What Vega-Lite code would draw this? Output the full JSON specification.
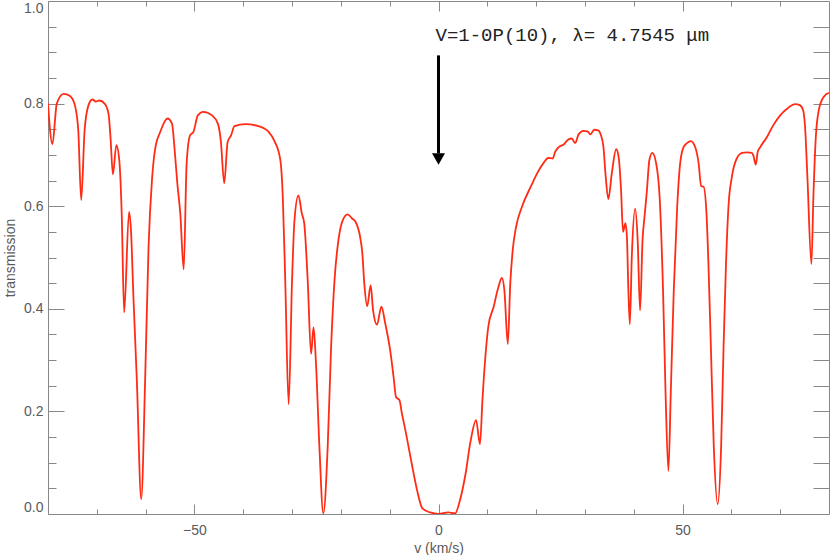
{
  "$schema": "https://vega.github.io/schema/vega-lite/v6.json",
  "width": 781,
  "height": 513,
  "autosize": {"type": "none"},
  "padding": {"left": 48, "top": 1, "right": 1, "bottom": 41},
  "background": "white",
  "view": {"stroke": "#888", "strokeWidth": 1},
  "config": {
    "axis": {
      "grid": false,
      "domain": false,
      "tickColor": "#888",
      "tickWidth": 1,
      "labelColor": "#5a5a5a",
      "titleColor": "#5a5a5a",
      "labelFont": "Liberation Sans",
      "titleFont": "Liberation Sans",
      "labelFontSize": 14,
      "titleFontSize": 14,
      "titleFontWeight": "normal"
    }
  },
  "datasets": {
    "spectrum": [
      {"v": -80.0, "t": 0.800}, {"v": -79.1, "t": 0.721}, {"v": -78.2, "t": 0.800}, {"v": -76.8, "t": 0.819},
      {"v": -75.5, "t": 0.815}, {"v": -74.5, "t": 0.797}, {"v": -73.8, "t": 0.748}, {"v": -73.2, "t": 0.612},
      {"v": -72.5, "t": 0.748}, {"v": -71.7, "t": 0.797}, {"v": -70.9, "t": 0.808}, {"v": -70.2, "t": 0.804},
      {"v": -69.5, "t": 0.806}, {"v": -68.4, "t": 0.800}, {"v": -67.6, "t": 0.780}, {"v": -67.2, "t": 0.735},
      {"v": -66.7, "t": 0.662}, {"v": -66.0, "t": 0.719}, {"v": -65.4, "t": 0.690}, {"v": -64.9, "t": 0.586},
      {"v": -64.4, "t": 0.393}, {"v": -63.4, "t": 0.589}, {"v": -63.0, "t": 0.553}, {"v": -62.5, "t": 0.423},
      {"v": -61.8, "t": 0.261}, {"v": -60.9, "t": 0.029}, {"v": -60.1, "t": 0.261}, {"v": -59.4, "t": 0.521},
      {"v": -58.7, "t": 0.651}, {"v": -58.1, "t": 0.709}, {"v": -57.0, "t": 0.745}, {"v": -55.5, "t": 0.771},
      {"v": -54.6, "t": 0.761}, {"v": -54.0, "t": 0.703}, {"v": -53.5, "t": 0.644}, {"v": -52.9, "t": 0.586},
      {"v": -52.2, "t": 0.477}, {"v": -51.6, "t": 0.683}, {"v": -50.9, "t": 0.738}, {"v": -50.2, "t": 0.745},
      {"v": -49.3, "t": 0.777}, {"v": -48.2, "t": 0.784}, {"v": -46.4, "t": 0.777}, {"v": -45.2, "t": 0.761},
      {"v": -44.6, "t": 0.728}, {"v": -43.9, "t": 0.645}, {"v": -43.2, "t": 0.725}, {"v": -42.5, "t": 0.738},
      {"v": -41.8, "t": 0.756}, {"v": -39.6, "t": 0.760}, {"v": -36.9, "t": 0.756}, {"v": -34.8, "t": 0.745},
      {"v": -33.5, "t": 0.725}, {"v": -32.4, "t": 0.690}, {"v": -31.9, "t": 0.618}, {"v": -31.4, "t": 0.456},
      {"v": -30.7, "t": 0.214}, {"v": -30.0, "t": 0.456}, {"v": -29.5, "t": 0.573}, {"v": -28.7, "t": 0.621},
      {"v": -28.0, "t": 0.586}, {"v": -27.5, "t": 0.566}, {"v": -26.8, "t": 0.456}, {"v": -26.1, "t": 0.312},
      {"v": -25.6, "t": 0.364}, {"v": -25.1, "t": 0.294}, {"v": -24.4, "t": 0.131}, {"v": -23.6, "t": 0.001},
      {"v": -22.7, "t": 0.131}, {"v": -22.0, "t": 0.326}, {"v": -21.3, "t": 0.456}, {"v": -20.5, "t": 0.534},
      {"v": -19.6, "t": 0.573}, {"v": -18.6, "t": 0.584}, {"v": -17.7, "t": 0.576}, {"v": -17.1, "t": 0.571},
      {"v": -16.0, "t": 0.537}, {"v": -15.6, "t": 0.508}, {"v": -15.2, "t": 0.449}, {"v": -14.6, "t": 0.405},
      {"v": -13.9, "t": 0.446}, {"v": -13.4, "t": 0.397}, {"v": -12.6, "t": 0.369}, {"v": -11.7, "t": 0.404},
      {"v": -10.9, "t": 0.371}, {"v": -9.9, "t": 0.319}, {"v": -9.2, "t": 0.267}, {"v": -8.7, "t": 0.228},
      {"v": -8.0, "t": 0.222}, {"v": -7.5, "t": 0.196}, {"v": -6.8, "t": 0.164}, {"v": -5.5, "t": 0.099},
      {"v": -4.4, "t": 0.047}, {"v": -3.3, "t": 0.011}, {"v": -1.7, "t": 0.003}, {"v": 0.0, "t": 0.000},
      {"v": 2.0, "t": 0.003}, {"v": 3.4, "t": 0.001}, {"v": 4.4, "t": 0.027}, {"v": 5.5, "t": 0.076},
      {"v": 6.5, "t": 0.138}, {"v": 7.7, "t": 0.183}, {"v": 8.5, "t": 0.136}, {"v": 9.0, "t": 0.222},
      {"v": 9.6, "t": 0.306}, {"v": 10.2, "t": 0.365}, {"v": 11.3, "t": 0.404}, {"v": 12.1, "t": 0.436},
      {"v": 13.0, "t": 0.460}, {"v": 13.5, "t": 0.436}, {"v": 14.2, "t": 0.331}, {"v": 14.7, "t": 0.449},
      {"v": 15.2, "t": 0.514}, {"v": 15.9, "t": 0.560}, {"v": 17.1, "t": 0.599}, {"v": 19.0, "t": 0.640},
      {"v": 20.2, "t": 0.664}, {"v": 21.5, "t": 0.684}, {"v": 22.5, "t": 0.694}, {"v": 23.4, "t": 0.693},
      {"v": 23.9, "t": 0.706}, {"v": 24.9, "t": 0.717}, {"v": 25.6, "t": 0.720}, {"v": 26.6, "t": 0.730},
      {"v": 27.3, "t": 0.732}, {"v": 28.0, "t": 0.723}, {"v": 28.7, "t": 0.740}, {"v": 29.7, "t": 0.747},
      {"v": 30.5, "t": 0.746}, {"v": 31.1, "t": 0.740}, {"v": 31.9, "t": 0.749}, {"v": 32.7, "t": 0.748},
      {"v": 33.3, "t": 0.738}, {"v": 33.8, "t": 0.715}, {"v": 34.2, "t": 0.664}, {"v": 34.8, "t": 0.614},
      {"v": 35.5, "t": 0.664}, {"v": 36.4, "t": 0.711}, {"v": 36.9, "t": 0.696}, {"v": 37.4, "t": 0.631},
      {"v": 37.8, "t": 0.550}, {"v": 38.3, "t": 0.567}, {"v": 38.6, "t": 0.540}, {"v": 38.9, "t": 0.436},
      {"v": 39.2, "t": 0.370}, {"v": 39.6, "t": 0.501}, {"v": 40.3, "t": 0.595}, {"v": 40.8, "t": 0.534},
      {"v": 41.3, "t": 0.397}, {"v": 41.8, "t": 0.534}, {"v": 42.2, "t": 0.579}, {"v": 42.7, "t": 0.631},
      {"v": 43.2, "t": 0.690}, {"v": 43.8, "t": 0.704}, {"v": 44.6, "t": 0.683}, {"v": 45.3, "t": 0.618},
      {"v": 46.0, "t": 0.436}, {"v": 46.5, "t": 0.242}, {"v": 47.1, "t": 0.084}, {"v": 47.6, "t": 0.242},
      {"v": 48.2, "t": 0.436}, {"v": 48.9, "t": 0.599}, {"v": 49.5, "t": 0.683}, {"v": 50.2, "t": 0.715},
      {"v": 50.9, "t": 0.723}, {"v": 51.7, "t": 0.727}, {"v": 52.6, "t": 0.715}, {"v": 53.3, "t": 0.683},
      {"v": 53.8, "t": 0.639}, {"v": 54.3, "t": 0.638}, {"v": 54.9, "t": 0.586}, {"v": 55.3, "t": 0.488},
      {"v": 55.8, "t": 0.326}, {"v": 56.4, "t": 0.131}, {"v": 57.2, "t": 0.019}, {"v": 57.9, "t": 0.131},
      {"v": 58.4, "t": 0.326}, {"v": 58.9, "t": 0.488}, {"v": 59.4, "t": 0.599}, {"v": 60.1, "t": 0.657},
      {"v": 61.1, "t": 0.693}, {"v": 62.2, "t": 0.704}, {"v": 63.2, "t": 0.705}, {"v": 64.2, "t": 0.704},
      {"v": 64.5, "t": 0.699}, {"v": 65.0, "t": 0.681}, {"v": 65.4, "t": 0.706}, {"v": 65.9, "t": 0.715},
      {"v": 67.3, "t": 0.735}, {"v": 68.6, "t": 0.758}, {"v": 70.0, "t": 0.777}, {"v": 71.4, "t": 0.790},
      {"v": 73.1, "t": 0.799}, {"v": 74.0, "t": 0.797}, {"v": 74.7, "t": 0.787}, {"v": 75.1, "t": 0.754},
      {"v": 75.6, "t": 0.651}, {"v": 76.4, "t": 0.487}, {"v": 76.8, "t": 0.618}, {"v": 77.3, "t": 0.735},
      {"v": 77.9, "t": 0.787}, {"v": 78.9, "t": 0.813}, {"v": 80.0, "t": 0.821}
    ],
    "label": [
      {"v": 0, "t": 0.933, "text": "V=1-0P(10), λ= 4.7545 μm"}
    ],
    "arrow": [
      {"v": 0, "t": 0.894, "t2": 0.703}
    ],
    "head": [
      {"v": 0, "t": 0.692}
    ]
  },
  "layer": [
    {
      "data": {"name": "spectrum"},
      "mark": {"type": "line", "color": "#ff2b14", "strokeWidth": 1.8, "interpolate": "monotone", "clip": true},
      "encoding": {
        "x": {
          "field": "v", "type": "quantitative",
          "scale": {"domain": [-80, 80], "nice": false, "zero": false},
          "axis": {"orient": "bottom", "values": [-50, 0, 50], "tickSize": -10, "labelPadding": 19, "title": "v (km/s)", "titlePadding": 4}
        },
        "y": {
          "field": "t", "type": "quantitative",
          "scale": {"domain": [0, 1], "nice": false, "zero": false},
          "axis": {"orient": "left", "values": [0, 0.2, 0.4, 0.6, 0.8, 1.0], "format": ".1f", "tickSize": -16, "labelPadding": 21, "labelFlush": true, "title": "transmission", "titlePadding": 6}
        }
      }
    },
    {
      "data": {"name": "label"},
      "mark": {"type": "text", "align": "left", "baseline": "middle", "dx": -3, "font": "Liberation Mono", "fontSize": 19, "color": "#222"},
      "encoding": {
        "x": {
          "field": "v", "type": "quantitative",
          "scale": {"domain": [-80, 80], "nice": false, "zero": false},
          "axis": {"orient": "bottom", "values": [-70, -60, -40, -30, -20, -10, 10, 20, 30, 40, 60, 70], "tickSize": -5, "labels": false, "title": null}
        },
        "y": {
          "field": "t", "type": "quantitative",
          "scale": {"domain": [0, 1], "nice": false, "zero": false},
          "axis": {"orient": "left", "values": [0.05, 0.1, 0.15, 0.25, 0.3, 0.35, 0.45, 0.5, 0.55, 0.65, 0.7, 0.75, 0.85, 0.9, 0.95], "tickSize": -8, "labels": false, "title": null}
        },
        "text": {"field": "text"}
      }
    },
    {
      "data": {"name": "arrow"},
      "mark": {"type": "rule", "color": "black", "strokeWidth": 3},
      "encoding": {
        "x": {
          "field": "v", "type": "quantitative",
          "scale": {"domain": [-80, 80], "nice": false, "zero": false},
          "axis": {"orient": "top", "values": [-50, 0, 50], "tickSize": -10, "labels": false, "title": null}
        },
        "y": {
          "field": "t", "type": "quantitative",
          "scale": {"domain": [0, 1], "nice": false, "zero": false},
          "axis": {"orient": "right", "values": [0.05, 0.1, 0.15, 0.2, 0.25, 0.3, 0.35, 0.4, 0.45, 0.5, 0.55, 0.6, 0.65, 0.7, 0.75, 0.8, 0.85, 0.9, 0.95], "tickSize": -16, "labels": false, "title": null}
        },
        "y2": {"field": "t2"}
      }
    },
    {
      "data": {"name": "head"},
      "mark": {"type": "point", "shape": "triangle-down", "filled": true, "color": "black", "opacity": 1, "size": 170},
      "encoding": {
        "x": {
          "field": "v", "type": "quantitative",
          "scale": {"domain": [-80, 80], "nice": false, "zero": false},
          "axis": {"orient": "top", "values": [-70, -60, -40, -30, -20, -10, 10, 20, 30, 40, 60, 70], "tickSize": -5, "labels": false, "title": null}
        },
        "y": {
          "field": "t", "type": "quantitative",
          "scale": {"domain": [0, 1], "nice": false, "zero": false},
          "axis": null
        }
      }
    }
  ],
  "resolve": {"axis": {"x": "independent", "y": "independent"}}
}
